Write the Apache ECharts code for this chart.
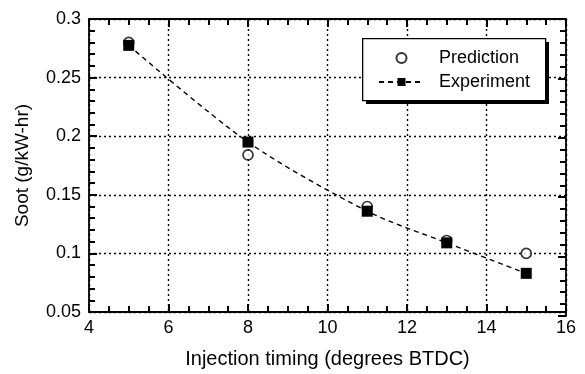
<!DOCTYPE html>
<html>
<head>
<meta charset="utf-8">
<script src="https://cdn.jsdelivr.net/npm/echarts@6/dist/echarts.min.js"></script>
<style>
  html, body { margin: 0; padding: 0; background: #fff; }
  #chart { width: 585px; height: 374px; }
</style>
</head>
<body>
<div id="chart"></div>
<script>
// Injection timing (degrees BTDC)
const timing = [5, 8, 11, 13, 15];
// Soot (g/kW-hr)
const predicted = [0.280, 0.184, 0.140, 0.111, 0.100];
const measured = [0.2775, 0.195, 0.136, 0.109, 0.083];

const FONT = '"Liberation Sans", Arial, sans-serif';
const pairs = (xs, ys) => xs.map((x, i) => [x, ys[i]]);

const gridLine = () => ({ show: true, lineStyle: { color: '#000', type: [2, 3], width: 1.4 } });
const axisLine = () => ({ show: true, onZero: false, lineStyle: { color: '#000', width: 1.8 } });
const majorTick = () => ({ show: true, inside: true, length: 8, lineStyle: { color: '#000', width: 2 } });
const minorTick = (n) => ({ show: true, splitNumber: n, length: 6, lineStyle: { color: '#000', width: 2 } });

const plotRect = { left: 89, top: 19, right: 19, bottom: 58 };

const chart = echarts.init(document.getElementById('chart'));
chart.setOption({
  animation: false,
  backgroundColor: '#fff',
  textStyle: { fontFamily: FONT },
  // grid 0 carries the data; grid 1 is the same rectangle and only draws the top/right frame
  grid: [Object.assign({}, plotRect), Object.assign({}, plotRect)],
  xAxis: [
    {
      gridIndex: 0, type: 'value', position: 'bottom', min: 4, max: 16, interval: 2,
      axisLine: axisLine(), axisTick: majorTick(), minorTick: minorTick(4),
      splitLine: gridLine(),
      axisLabel: { color: '#000', fontSize: 18, fontFamily: FONT, margin: 7 },
      name: 'Injection timing (degrees BTDC)', nameLocation: 'middle', nameGap: 37,
      nameTextStyle: { color: '#000', fontSize: 20, fontFamily: FONT }
    },
    {
      gridIndex: 1, type: 'value', position: 'top', min: 4, max: 16, interval: 2,
      axisLine: axisLine(), axisTick: majorTick(), minorTick: minorTick(4),
      axisLabel: { show: false }, splitLine: { show: false }
    }
  ],
  yAxis: [
    {
      gridIndex: 0, type: 'value', position: 'left', min: 0.05, max: 0.3, interval: 0.05,
      axisLine: axisLine(), axisTick: majorTick(), minorTick: minorTick(5),
      splitLine: gridLine(),
      axisLabel: { color: '#000', fontSize: 18, fontFamily: FONT, margin: 8,
        formatter: v => String(+v.toFixed(2)) },
      name: 'Soot (g/kW-hr)', nameLocation: 'middle', nameGap: 57,
      nameTextStyle: { color: '#000', fontSize: 19, fontFamily: FONT }
    },
    {
      gridIndex: 1, type: 'value', position: 'right', min: 0.05, max: 0.3, interval: 0.05,
      axisLine: axisLine(), axisTick: majorTick(), minorTick: minorTick(5),
      axisLabel: { show: false }, splitLine: { show: false }
    }
  ],
  // legend frame with its drop shadow
  graphic: [
    { type: 'rect', left: 366, top: 42, z: 10, silent: true,
      shape: { width: 183, height: 62 }, style: { fill: '#000' } },
    { type: 'rect', left: 362, top: 38, z: 11, silent: true,
      shape: { width: 183, height: 62 }, style: { fill: '#fff', stroke: '#000', lineWidth: 1.3 } }
  ],
  legend: {
    left: 362, top: 38, orient: 'vertical', z: 20,
    padding: [11, 13, 9, 16],
    itemGap: 6, itemWidth: 45, itemHeight: 10,
    textStyle: { color: '#000', fontSize: 18, fontFamily: FONT, padding: [0, 0, 0, 10] },
    data: [
      { name: 'Prediction', icon: 'circle' },
      { name: 'Experiment' }
    ]
  },
  series: [
    {
      name: 'Prediction', type: 'scatter', xAxisIndex: 0, yAxisIndex: 0,
      data: pairs(timing, predicted),
      symbol: 'circle', symbolSize: 10,
      itemStyle: { color: '#fff', borderColor: '#000', borderWidth: 1.7 },
      z: 2
    },
    {
      name: 'Experiment', type: 'line', xAxisIndex: 0, yAxisIndex: 0,
      data: pairs(timing, measured),
      smooth: 0.3,
      symbol: 'rect', symbolSize: 11,
      itemStyle: { color: '#000' },
      lineStyle: { color: '#000', width: 1.4, type: [5, 4] },
      z: 3
    }
  ]
});
</script>
</body>
</html>
